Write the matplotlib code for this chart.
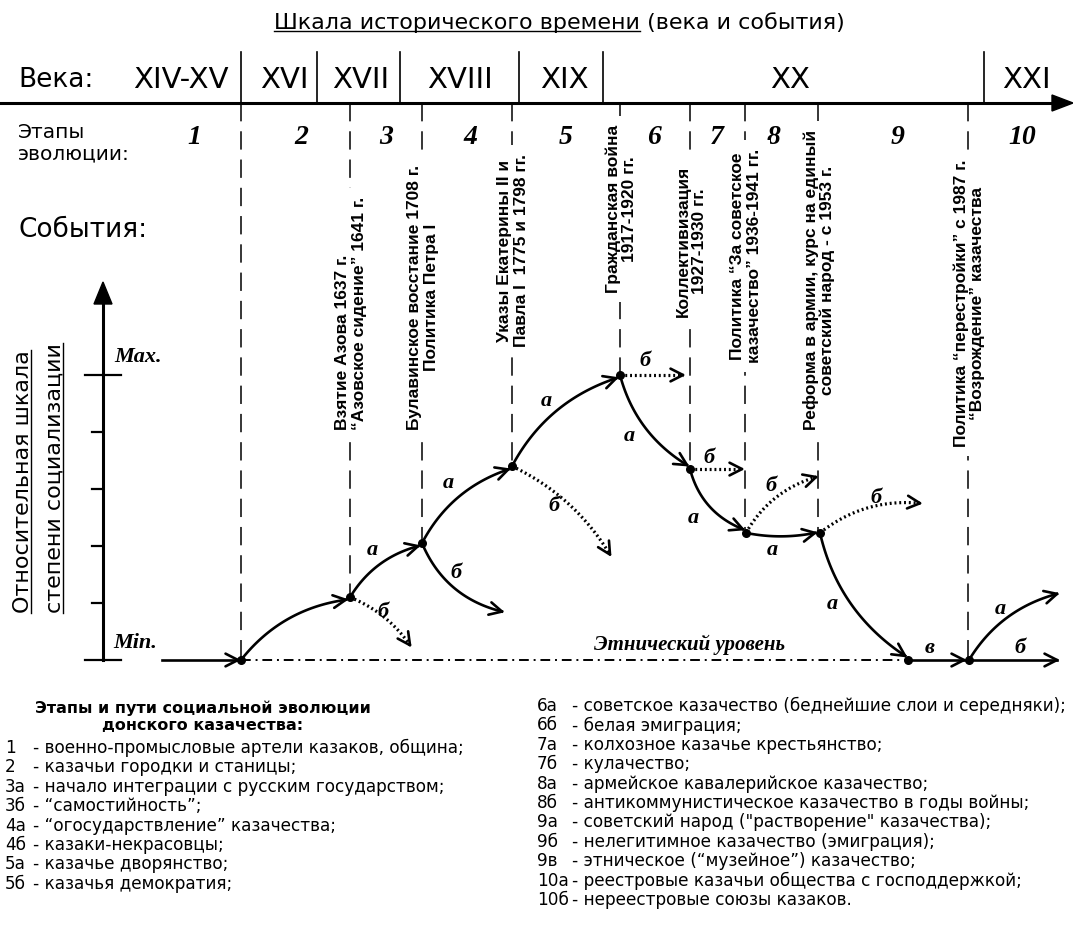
import numpy as np
import matplotlib
matplotlib.use('Agg')
import matplotlib.pyplot as plt

W, H = 1073, 930

SANS = ['DejaVu Sans']
ARIAL = ['Liberation Sans', 'DejaVu Sans']
SERIF = ['Liberation Serif', 'DejaVu Serif']

# --- data -------------------------------------------------------------
centuries = ['XIV-XV', 'XVI', 'XVII', 'XVIII', 'XIX', 'XX', 'XXI']
century_x = [181, 284, 361, 460, 564, 790, 1026]
century_bounds = [241, 317, 400, 519, 603, 984]

stages = ['1', '2', '3', '4', '5', '6', '7', '8', '9', '10']
stage_x = [194, 301, 386, 470, 566, 654, 717, 773, 898, 1022]
stage_bounds = [241, 350, 422, 512, 620, 690, 745, 818, 968]

# nodes: x on the time scale, level of socialization (0 = Min, 5 = Max)
node_x = [241, 350, 422, 512, 620, 690, 746, 820, 908, 969]
node_lev = [0, 1.1, 2.05, 3.4, 5.0, 3.35, 2.23, 2.23, 0, 0]

events = [
    "Взятие Азова 1637 г.\n\u201cАзовское сидение\u201d 1641 г.",
    "Булавинское восстание 1708 г.\nПолитика Петра I",
    "Указы Екатерины II и\nПавла I  1775 и 1798 гг.",
    "Гражданская война\n1917-1920 гг.",
    "Коллективизация\n1927-1930 гг.",
    "Политика \u201cЗа советское\nказачество\u201d 1936-1941 гг.",
    "Реформа в армии, курс на единый\nсоветский народ - с 1953 г.",
    "Политика \u201cперестройки\u201d с 1987 г.\n\u201cВозрождение\u201d казачества",
]
event_start = [430, 430, 347, 293, 317, 363, 430, 447]
event_align = ['left', 'center', 'center', 'center', 'center', 'center', 'center', 'center']

# paths: start node, end (node index or (x, level)), label, label x, label level, dotted, bend
paths = [
    (0, 1, '', 0, 0, False, 0.2),
    (1, 2, 'а', 372, 1.93, False, 0.2),
    (1, (410, 0.26), 'б', 383, 0.84, True, 0.15),
    (2, 3, 'а', 448, 3.1, False, 0.2),
    (2, (502, 0.85), 'б', 456, 1.52, False, -0.25),
    (3, 4, 'а', 546, 4.55, False, 0.2),
    (3, (610, 1.85), 'б', 554, 2.7, True, 0.15),
    (4, (683, 5.0), 'б', 645, 5.25, True, 0.0),
    (4, 5, 'а', 629, 3.93, False, -0.2),
    (5, (742, 3.35), 'б', 709, 3.55, True, 0.0),
    (5, 6, 'а', 693, 2.5, False, -0.25),
    (6, (816, 3.21), 'б', 771, 3.05, True, 0.2),
    (6, 7, 'а', 772, 1.93, False, -0.1),
    (7, (920, 2.75), 'б', 876, 2.85, True, 0.2),
    (7, 8, 'а', 832, 0.98, False, -0.2),
    (8, 9, 'в', 930, 0.21, False, 0.0),
    (9, (1057, 1.16), 'а', 1000, 0.9, False, 0.2),
    (9, (1057, 0.0), 'б', 1020, 0.21, False, 0.0),
]

legend_left = [
    ('1', '- военно-промысловые артели казаков, община;'),
    ('2', '- казачьи городки и станицы;'),
    ('3а', '- начало интеграции с русским государством;'),
    ('3б', '- \u201cсамостийность\u201d;'),
    ('4а', '- \u201cогосударствление\u201d казачества;'),
    ('4б', '- казаки-некрасовцы;'),
    ('5а', '- казачье дворянство;'),
    ('5б', '- казачья демократия;'),
]
legend_right = [
    ('6а', '- советское казачество (беднейшие слои и середняки);'),
    ('6б', '- белая эмиграция;'),
    ('7а', '- колхозное казачье крестьянство;'),
    ('7б', '- кулачество;'),
    ('8а', '- армейское кавалерийское казачество;'),
    ('8б', '- антикоммунистическое казачество в годы войны;'),
    ('9а', '- советский народ ("растворение" казачества);'),
    ('9б', '- нелегитимное казачество (эмиграция);'),
    ('9в', '- этническое (\u201cмузейное\u201d) казачество;'),
    ('10а', '- реестровые казачьи общества с господдержкой;'),
    ('10б', '- нереестровые союзы казаков.'),
]

# --- layout helpers ---------------------------------------------------
AXIS_Y = 103
MIN_Y = 660
UNIT = 57


def lev(v):
    return MIN_Y - UNIT * v


fig = plt.figure(figsize=(W / 100, H / 100), dpi=100)
ax = fig.add_axes([0, 0, 1, 1])
ax.set_xlim(0, W)
ax.set_ylim(H, 0)
ax.axis('off')


def arrow_head(ax, end, direction, size=14, ang=27):
    u = np.array(direction, float)
    u = u / np.hypot(*u)
    for s in (1, -1):
        a = np.radians(ang * s)
        r = np.array([u[0] * np.cos(a) - u[1] * np.sin(a),
                      u[0] * np.sin(a) + u[1] * np.cos(a)])
        p = end - size * r
        ax.plot([end[0], p[0]], [end[1], p[1]], color='k', lw=1.9,
                solid_capstyle='round')


def curve(ax, p0, p1, bend, dotted=False):
    p0 = np.array(p0, float)
    p1 = np.array(p1, float)
    d = p1 - p0
    c = (p0 + p1) / 2 + bend * np.array([d[1], -d[0]])
    t = np.linspace(0, 1, 80)[:, None]
    pts = (1 - t) ** 2 * p0 + 2 * (1 - t) * t * c + t ** 2 * p1
    if dotted:
        ax.plot(pts[:, 0], pts[:, 1], color='k', lw=2.3, ls=(0, (0.6, 0.9)),
                dash_capstyle='butt')
    else:
        ax.plot(pts[:, 0], pts[:, 1], color='k', lw=1.9)
    arrow_head(ax, p1, p1 - c)


# --- title ------------------------------------------------------------
tA = ax.text(640, 23, 'Шкала исторического времени', ha='right', va='center',
             fontsize=16, family=SANS)
tB = ax.text(640, 23, ' (века и события)', ha='left', va='center',
             fontsize=16, family=SANS)

# --- time axis --------------------------------------------------------
ax.plot([0, 1056], [AXIS_Y, AXIS_Y], color='k', lw=2.2)
ax.fill([1073, 1052, 1052], [AXIS_Y, AXIS_Y - 8, AXIS_Y + 8], color='k')
for x in century_bounds:
    ax.plot([x, x], [52, AXIS_Y], color='k', lw=1.2)
ax.text(18, 80, 'Века:', fontsize=19, family=SANS, va='center')
for name, x in zip(centuries, century_x):
    ax.text(x, 80, name, fontsize=21, family=SANS, ha='center', va='center')

ax.text(18, 143, 'Этапы\nэволюции:', fontsize=14.5, family=SANS, va='center',
        linespacing=1.15)
ax.text(18, 230, 'События:', fontsize=19, family=SANS, va='center')
for s, x in zip(stages, stage_x):
    ax.text(x, 137, s, fontsize=20, family=SERIF, style='italic',
            weight='bold', ha='center', va='center')

# stage boundaries (dashed), stopping at the node on each boundary
for x in stage_bounds:
    i = int(np.argmin(np.abs(np.array(node_x) - x)))
    ax.plot([x, x], [AXIS_Y, lev(node_lev[i])], color='k', lw=1.1,
            ls=(0, (12, 6.5)), zorder=1)

for txt, x, y0, al in zip(events, stage_bounds[1:], event_start, event_align):
    ax.text(x + 1, y0, txt, rotation=90, ha='center', va='bottom',
            multialignment=al, fontsize=12.5, family=ARIAL, weight='bold',
            linespacing=1.1, zorder=3,
            bbox=dict(boxstyle='square,pad=0.5', fc='white', ec='none'))

# --- vertical scale ---------------------------------------------------
ax.plot([103, 103], [MIN_Y, 300], color='k', lw=2.2)
ax.fill([103, 94, 112], [282, 304, 304], color='k')
ax.plot([85, 121], [lev(5), lev(5)], color='k', lw=1.6)
ax.plot([85, 121], [lev(0), lev(0)], color='k', lw=1.6)
for v in [1, 2, 3, 4]:
    ax.plot([92, 103], [lev(v), lev(v)], color='k', lw=1.6)
ax.text(114, lev(5) - 18, 'Max.', fontsize=16, family=SERIF, style='italic',
        weight='bold', va='center')
ax.text(113, lev(0) - 17, 'Min.', fontsize=16, family=SERIF, style='italic',
        weight='bold', va='center')
yl1 = ax.text(23, 613, 'Относительная шкала', rotation=90, ha='center',
              va='bottom', fontsize=16, family=SANS)
yl2 = ax.text(55, 613, 'степени социализации', rotation=90, ha='center',
              va='bottom', fontsize=16, family=SANS)

# --- evolution paths --------------------------------------------------
ax.plot([162, 236], [MIN_Y, MIN_Y], color='k', lw=1.9)
arrow_head(ax, np.array([238.0, MIN_Y]), (1, 0))
ax.plot([node_x[0], node_x[8]], [MIN_Y, MIN_Y], color='k', lw=1.4,
        ls=(0, (5, 2.5, 1, 2.5)), zorder=1)
ax.text(690, 645, 'Этнический уровень', fontsize=15, family=SERIF,
        style='italic', weight='bold', ha='center', va='center')

for start, end, lab, lx, ll, dotted, bend in paths:
    p0 = np.array([node_x[start], lev(node_lev[start])])
    if isinstance(end, int):
        p1 = np.array([node_x[end], lev(node_lev[end])])
        d = p1 - p0
        p1 = p1 - 5 * d / np.hypot(*d)
    else:
        p1 = np.array([end[0], lev(end[1])])
    curve(ax, p0, p1, bend, dotted)
    if lab:
        ax.text(lx, lev(ll), lab, fontsize=16, family=SERIF, style='italic',
                weight='bold', ha='center', va='center')

ax.scatter(node_x, [lev(v) for v in node_lev], s=30, color='k', zorder=5)

# --- legend -----------------------------------------------------------
ax.text(203, 717, 'Этапы и пути социальной эволюции\nдонского казачества:',
        ha='center', va='center', fontsize=11.5, family=SANS, weight='bold',
        linespacing=1.2)
for i, (k, v) in enumerate(legend_left):
    y = 748 + 19.4 * i
    ax.text(5, y, k, fontsize=12.2, family=SANS, va='center')
    ax.text(33, y, v, fontsize=12.2, family=SANS, va='center')
for i, (k, v) in enumerate(legend_right):
    y = 706 + 19.4 * i
    ax.text(537, y, k, fontsize=12.2, family=SANS, va='center')
    ax.text(572, y, v, fontsize=12.2, family=SANS, va='center')

# --- underlines -------------------------------------------------------
fig.canvas.draw()
r = fig.canvas.get_renderer()
inv = ax.transData.inverted()
bb = tA.get_window_extent(r).transformed(inv)
yb = max(bb.y0, bb.y1) - 2
ax.plot([bb.x0, bb.x1], [yb, yb], color='k', lw=1.0)
for t in (yl1, yl2):
    bb = t.get_window_extent(r).transformed(inv)
    xb = max(bb.x0, bb.x1) - 2
    ax.plot([xb, xb], [bb.y0, bb.y1], color='k', lw=1.0)

fig.savefig('out.png', dpi=100)
